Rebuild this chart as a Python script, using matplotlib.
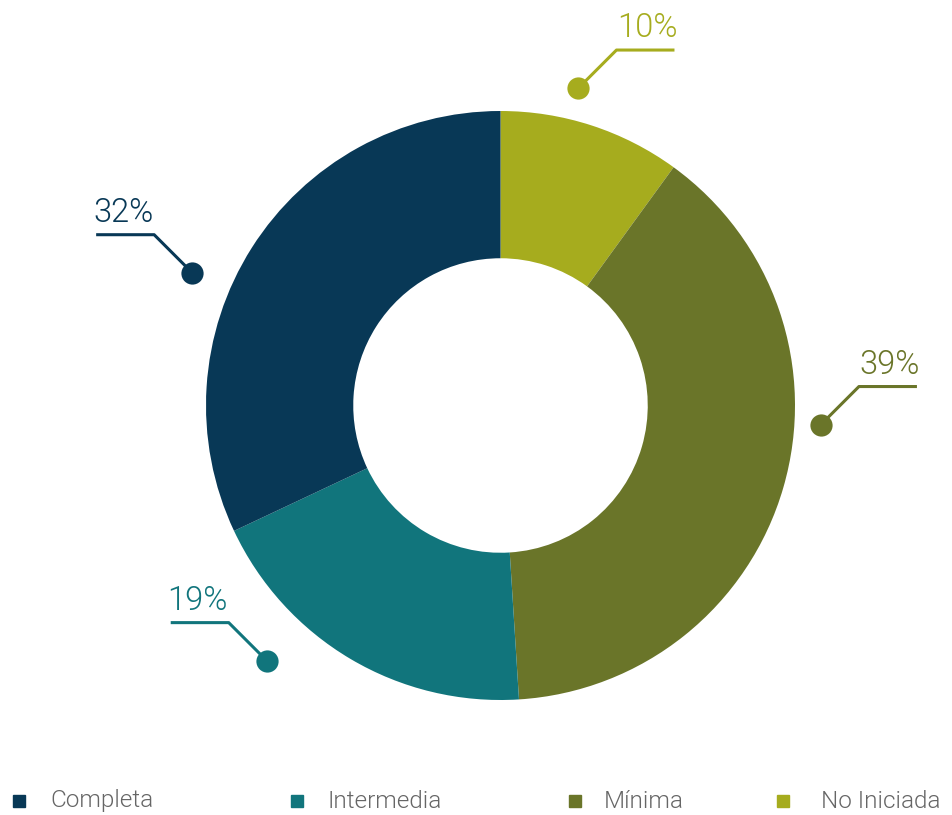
import matplotlib
matplotlib.use("Agg")
import matplotlib.pyplot as plt
import numpy as np

categories = ["No Iniciada", "Mínima", "Intermedia", "Completa"]
values = [10, 39, 19, 32]
colors = ["#A6AC1E", "#6A7529", "#11757C", "#083856"]

legend_order = ["Completa", "Intermedia", "Mínima", "No Iniciada"]

# label layout (radius in donut units, angular nudge in degrees)
label_r = [1.11, 1.09, 1.175, 1.14]
label_nudge = [-4.2, -12.8, 11.9, -9.1]

W, H = 952, 815
s = 294.5          # px per donut radius
cx, cy = 500.5, 405.5  # centre in px from top-left

fig = plt.figure(figsize=(W / 100, H / 100), dpi=100)
ax = fig.add_axes([0, 0, 1, 1])
ax.pie(values, colors=colors, startangle=90, counterclock=False,
       wedgeprops=dict(width=0.5, edgecolor="none"))
ax.set_xlim(-cx / s, (W - cx) / s)
ax.set_ylim(-(H - cy) / s, cy / s)
ax.set_aspect("equal")
ax.axis("off")

total = sum(values)
start = 0
for v, c, r, nd in zip(values, colors, label_r, label_nudge):
    mid = start + v / total * 360 / 2
    start += v / total * 360
    a = np.radians(mid + nd)
    x, y = r * np.sin(a), r * np.cos(a)
    side = 1 if x > 0 else -1
    ex, ey = x + side * 38 / s, y + 38 / s
    hx = ex + side * 58 / s
    ax.plot([x, ex, hx], [y, ey, ey], color=c, lw=2.2, solid_capstyle="butt")
    ax.plot(x, y, "o", color=c, ms=16, mec="none")
    ax.text((ex + hx) / 2 + side * 2 / s, ey + 13 / s, f"{v}%", color=c,
            ha="center", va="baseline", fontsize=23.5,
            family="Roboto", fontweight=300)

# legend
leg_sq_x = [19, 297, 575, 783]
leg_txt_x = [50, 327, 604, 821]
leg_y = 801
for name, sx, tx in zip(legend_order, leg_sq_x, leg_txt_x):
    c = colors[categories.index(name)]
    fig.patches.append(plt.Rectangle(((sx - 6) / W, 1 - (leg_y + 6) / H), 12 / W, 12 / H,
                                     transform=fig.transFigure, color=c))
    fig.text(tx / W, 1 - leg_y / H, name, color="#666666", fontsize=17.5,
             va="center", ha="left", family="Roboto", fontweight=300)

fig.savefig("out.png", dpi=100)
